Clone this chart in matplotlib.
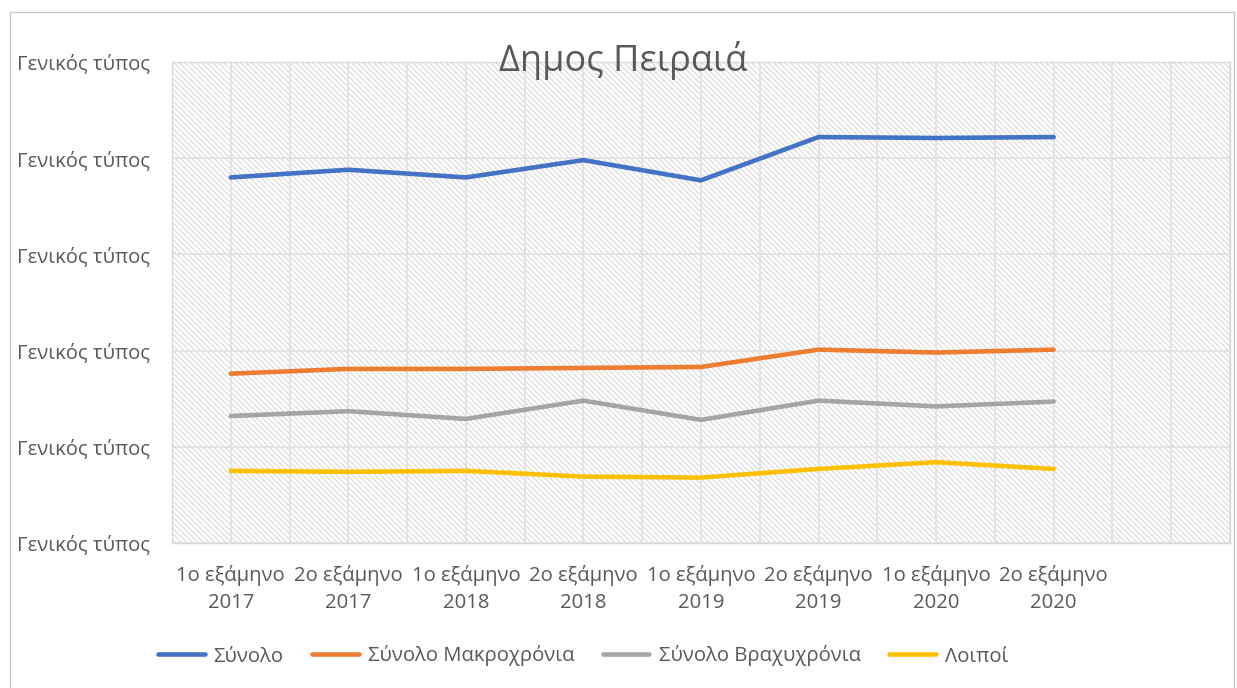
import matplotlib
matplotlib.use("Agg")
import matplotlib.pyplot as plt
from matplotlib.patches import Rectangle
import numpy as np

plt.rcParams['font.family'] = ['Open Sans', 'DejaVu Sans']
plt.rcParams['hatch.linewidth'] = 0.8

title = "Δημος Πειραιά"
categories = ["1ο εξάμηνο\n2017", "2ο εξάμηνο\n2017", "1ο εξάμηνο\n2018", "2ο εξάμηνο\n2018",
              "1ο εξάμηνο\n2019", "2ο εξάμηνο\n2019", "1ο εξάμηνο\n2020", "2ο εξάμηνο\n2020"]
series_names = ["Σύνολο", "Σύνολο Μακροχρόνια", "Σύνολο Βραχυχρόνια", "Λοιποί"]
synolo = [3.80, 3.88, 3.80, 3.98, 3.77, 4.22, 4.21, 4.22]
makro = [1.76, 1.81, 1.81, 1.82, 1.83, 2.01, 1.98, 2.01]
vraxy = [1.32, 1.37, 1.29, 1.48, 1.28, 1.48, 1.42, 1.47]
loipoi = [0.75, 0.74, 0.75, 0.69, 0.68, 0.77, 0.84, 0.77]
colors = ["#4472C4", "#ED7D31", "#A5A5A5", "#FFC000"]
ytick_vals = [0, 1, 2, 3, 4, 5]
ytick_labels = ["Γενικός τύπος"] * 6

W, H = 1237, 688
FS = 14.6
fig = plt.figure(figsize=(W / 100, H / 100), dpi=100)
fig.patch.set_facecolor("white")

# outer chart border
fig.add_artist(Rectangle((10 / W, 1 - 700 / H), (1234 - 10) / W, (700 - 12) / H,
                         transform=fig.transFigure, fill=False, edgecolor="#c8c8c8", lw=1.0))

ax = fig.add_axes([172 / W, 1 - 543 / H, (1230 - 172) / W, (543 - 62) / H])
ax.set_facecolor("white")
bg = Rectangle((0, 0), 1, 1, transform=ax.transAxes, facecolor="white",
               edgecolor="#d9d9d9", hatch="\\\\\\\\\\\\", lw=0, zorder=0)
ax.add_patch(bg)

n_slots = 2 * len(categories) + 2
xpos = np.arange(len(categories)) * 2 + 1
for vals, name, c in zip([synolo, makro, vraxy, loipoi], series_names, colors):
    ax.plot(xpos, vals, color=c, lw=3.3, label=name, solid_capstyle="round", zorder=3)

ax.set_xlim(0, n_slots)
ax.set_ylim(0, 5)
ax.set_xticks(xpos)
ax.set_xticklabels(categories, fontsize=FS, color="#595959", linespacing=1.45)
ax.set_xticks(np.arange(n_slots + 1), minor=True)
ax.set_yticks(ytick_vals)
ax.set_yticklabels(ytick_labels, fontsize=FS, color="#595959")
for lab in ax.get_yticklabels():
    lab.set_ha("left")
ax.tick_params(axis="y", length=0, pad=(172 - 17) * 0.72)
ax.tick_params(axis="x", which="both", length=0, pad=16)
ax.grid(which="both", axis="x", color="#e2e2e2", lw=1.3, zorder=1)
ax.grid(which="major", axis="y", color="#e2e2e2", lw=1.3, zorder=1)
ax.set_axisbelow(True)
for s in ax.spines.values():
    s.set_color("#d9d9d9")
    s.set_linewidth(1.0)

fig.text(623 / W, 1 - 61 / H, title, ha="center", va="center", fontsize=26, color="#595959")

fig.legend(loc="center", bbox_to_anchor=(583 / W, 1 - 656 / H), ncol=4, frameon=False,
           fontsize=FS, labelcolor="#595959", handlelength=2.3, columnspacing=1.4,
           handletextpad=0.45)

fig.savefig("out.png", dpi=100)
